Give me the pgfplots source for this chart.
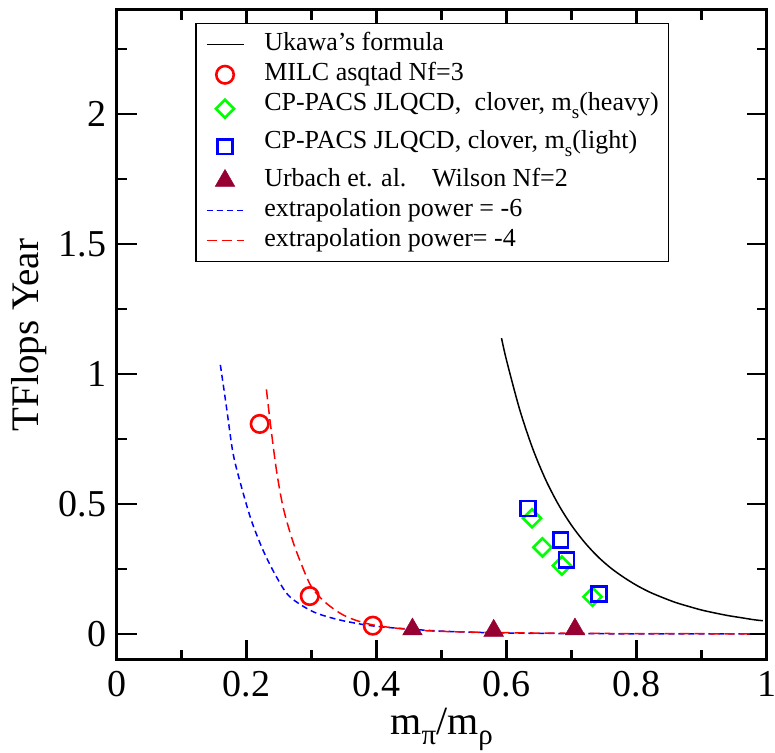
\documentclass[border=0pt]{standalone}
\usepackage{fontspec}
\setmainfont{Liberation Serif}
\usepackage{pgfplots}
\pgfplotsset{compat=1.18}
\definecolor{xred}{RGB}{255,0,0}
\definecolor{xgreen}{RGB}{0,255,0}
\definecolor{xblue}{RGB}{0,0,255}
\definecolor{xmaroon}{RGB}{150,0,50}
\newcommand{\sub}[1]{\raisebox{-8pt}{\fontsize{19}{19}\selectfont #1}}
\newcommand{\xsub}[1]{\raisebox{-10pt}{\fontsize{29}{29}\selectfont #1}}
\begin{document}
\begin{tikzpicture}
\begin{axis}[name=ax,
  width=650pt, height=650pt, scale only axis,
  xmin=0, xmax=1, ymin=-0.1, ymax=2.4,
  xtick={0,0.2,0.4,0.6,0.8,1},
  ytick={0,0.5,1,1.5,2},
  minor xtick={0.1,0.3,0.5,0.7,0.9},
  minor ytick={0.25,0.75,1.25,1.75,2.25},
  major tick length=20pt, minor tick length=10pt,
  tick align=inside,
  axis line style={line width=3pt},
  every tick/.style={line width=2.5pt, black},
  /pgf/number format/assume math mode=true,
  ticklabel style={font=\fontsize{38}{38}\selectfont, inner sep=0pt},
  yticklabel style={xshift=-10pt},
  xticklabel style={yshift=-11pt},
  xlabel={m\xsub{π}/m\xsub{ρ}},
  ylabel={TFlops Year},
  xlabel style={font=\fontsize{40}{40}\selectfont, at={(axis description cs:0.5,0)}, anchor=base, yshift=-75pt, inner sep=0pt},
  ylabel style={font=\fontsize{39}{39}\selectfont, at={(axis description cs:-0.135,0.5)}, anchor=center, inner sep=0pt},
  legend style={at={(rel axis cs:0.1205,0.98)}, anchor=north west,
    draw=black, line width=1.5pt,
    font=\fontsize{26}{30}\selectfont,
    inner xsep=10pt, inner ysep=8pt, row sep=4pt,
    nodes={inner sep=0pt, text height=19pt, text depth=7pt},
    /tikz/every odd column/.style={column sep=20pt}},
  legend cell align=left,
  legend image code/.code={\draw[mark repeat=2,mark phase=2,#1] plot coordinates {(0pt,0pt) (18.5pt,0pt) (37pt,0pt)};},
]
% Ukawa's formula
\addplot[black, line width=1.5pt, smooth] coordinates {
(0.592,1.138) (0.60,1.050) (0.62,0.863) (0.64,0.713) (0.66,0.593) (0.68,0.496)
(0.70,0.417) (0.72,0.352) (0.74,0.298) (0.76,0.254) (0.78,0.218) (0.80,0.187)
(0.82,0.161) (0.84,0.140) (0.86,0.121) (0.88,0.106) (0.90,0.092) (0.92,0.081)
(0.94,0.071) (0.96,0.063) (0.98,0.055) (0.994,0.051)};
\addlegendentry{Ukawa’s formula}
% MILC
\addplot[only marks, mark=o, mark size=8.75pt, xred, line width=2.6pt] coordinates {
(0.220,0.808) (0.297,0.146) (0.394,0.032)};
\addlegendentry{MILC asqtad Nf=3}
% CP-PACS heavy
\addplot[only marks, mark=square, mark size=6.4pt, mark options={rotate=45}, xgreen, line width=2.6pt] coordinates {
(0.639,0.445) (0.655,0.333) (0.685,0.263) (0.732,0.143)};
\addlegendentry[text depth=15pt]{CP-PACS JLQCD,\hspace{7pt} clover, m\sub{s}(heavy)}
% CP-PACS light
\addplot[only marks, mark=square, mark size=7.4pt, xblue, line width=2.6pt] coordinates {
(0.633,0.483) (0.683,0.362) (0.692,0.285) (0.742,0.154)};
\addlegendentry[text depth=15pt]{CP-PACS JLQCD, clover, m\sub{s}(light)}
% Urbach
\addplot[only marks, mark=triangle*, mark size=11.3pt, xmaroon, fill=xmaroon, line width=0.5pt] coordinates {
(0.455,0.018) (0.580,0.013) (0.705,0.018)};
\addlegendentry{Urbach et. al.\hspace{17pt} Wilson Nf=2}
% extrapolation -6
\addplot[xblue, line width=1.5pt, dash pattern=on 6pt off 4pt, smooth] coordinates {
(0.1595,1.035) (0.1688,0.874) (0.179,0.695) (0.1918,0.567) (0.207,0.438)
(0.225,0.323) (0.2457,0.220) (0.266,0.144) (0.302,0.086) (0.343,0.054)
(0.394,0.031) (0.455,0.018) (0.50,0.011) (0.55,0.0065) (0.60,0.0038)
(0.70,0.0015) (0.80,0.0007) (0.90,0.0004) (0.975,0.0002)};
\addlegendentry{extrapolation power = -6}
% extrapolation -4
\addplot[xred, line width=1.5pt, dash pattern=on 10pt off 5pt, smooth] coordinates {
(0.2303,0.941) (0.2364,0.810) (0.2457,0.631) (0.2558,0.490) (0.2687,0.374)
(0.2815,0.285) (0.2995,0.182) (0.3226,0.118) (0.3533,0.067) (0.394,0.035)
(0.455,0.016) (0.50,0.0102) (0.55,0.0070) (0.60,0.0049) (0.65,0.0036)
(0.70,0.0027) (0.75,0.0020) (0.80,0.0016) (0.85,0.0012) (0.90,0.0010) (0.975,0.0007)};
\addlegendentry{extrapolation power= -4}
\end{axis}
\pgfresetboundingbox
\path ([shift={(-116.7pt,-93pt)}]ax.south west) rectangle ([shift={(8.3pt,10pt)}]ax.north east);
\end{tikzpicture}
\end{document}
